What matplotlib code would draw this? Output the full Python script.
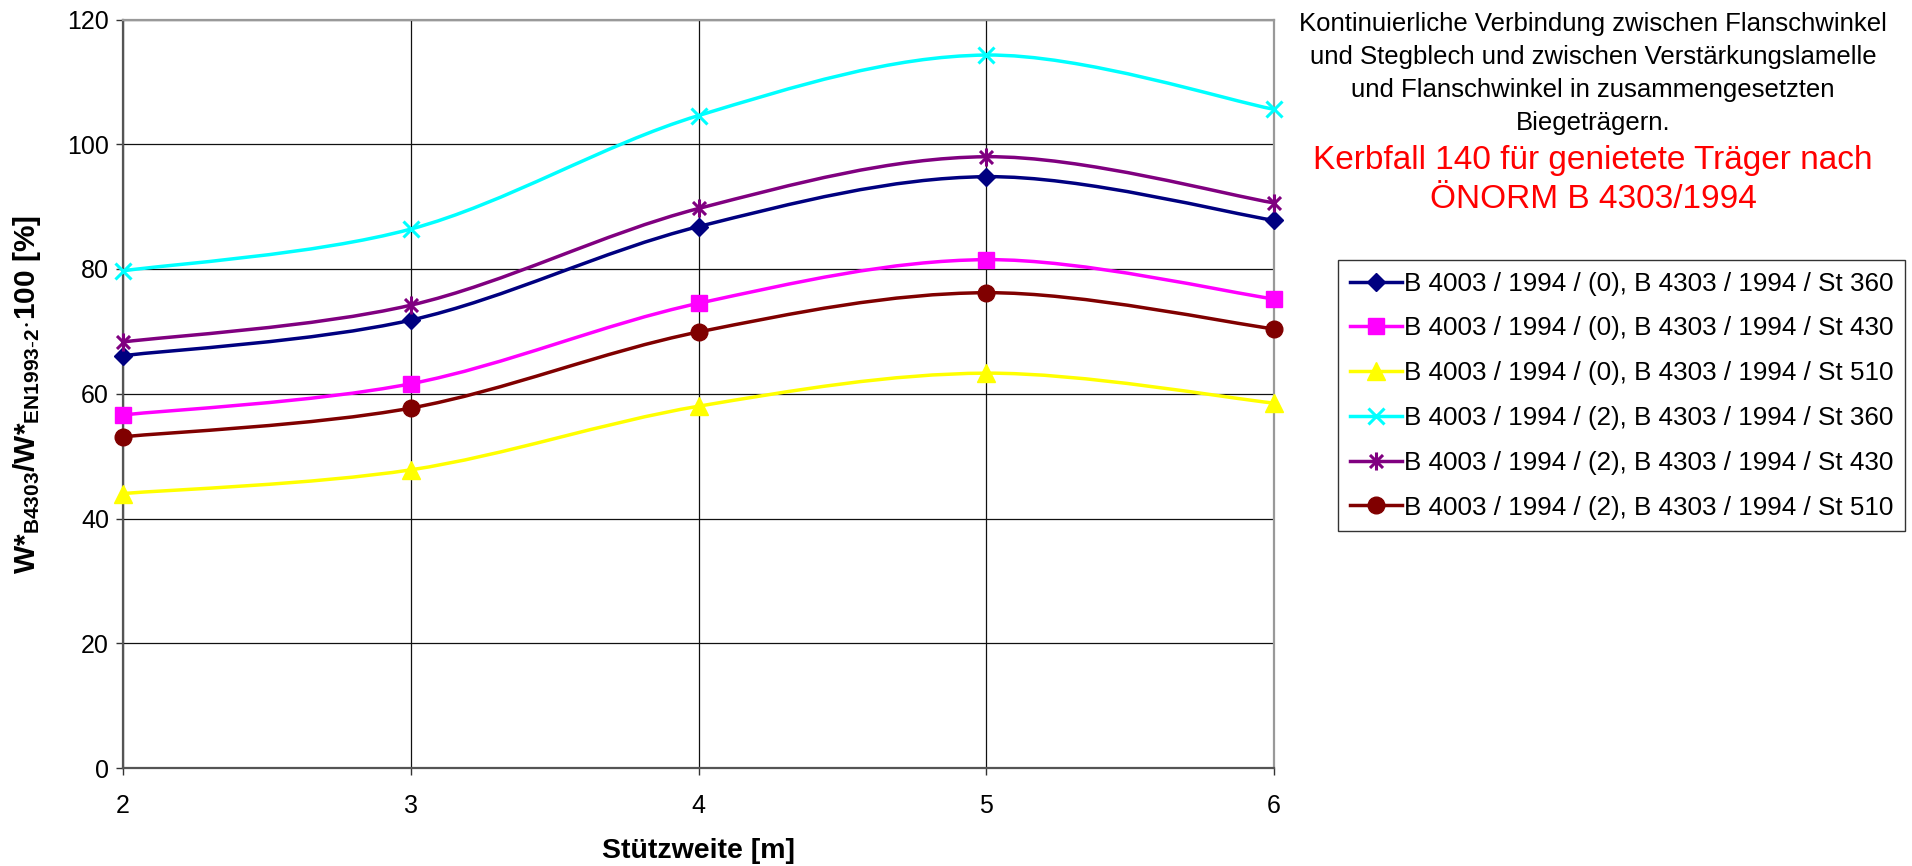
import numpy as np
import matplotlib
matplotlib.use("Agg")
import matplotlib.pyplot as plt
from matplotlib.path import Path
from matplotlib.patches import PathPatch
from matplotlib.lines import Line2D

plt.rcParams['font.family'] = ['Liberation Sans', 'DejaVu Sans']
plt.rcParams['mathtext.fontset'] = 'custom'
plt.rcParams['mathtext.rm'] = 'Liberation Sans'
plt.rcParams['mathtext.bf'] = 'Liberation Sans:bold'
plt.rcParams['mathtext.it'] = 'Liberation Sans:italic'

# ---- data ----
spans = [2, 3, 4, 5, 6]
s0_st360 = [66.1, 71.8, 86.8, 94.8, 87.8]
s0_st430 = [56.6, 61.6, 74.5, 81.5, 75.2]
s0_st510 = [44.0, 47.8, 58.0, 63.3, 58.5]
s2_st360 = [79.7, 86.4, 104.6, 114.3, 105.6]
s2_st430 = [68.3, 74.2, 89.7, 98.0, 90.6]
s2_st510 = [53.1, 57.7, 69.9, 76.2, 70.4]

labels = [
    "B 4003 / 1994 / (0), B 4303 / 1994 / St 360",
    "B 4003 / 1994 / (0), B 4303 / 1994 / St 430",
    "B 4003 / 1994 / (0), B 4303 / 1994 / St 510",
    "B 4003 / 1994 / (2), B 4303 / 1994 / St 360",
    "B 4003 / 1994 / (2), B 4303 / 1994 / St 430",
    "B 4003 / 1994 / (2), B 4303 / 1994 / St 510",
]
series = [s0_st360, s0_st430, s0_st510, s2_st360, s2_st430, s2_st510]
colors = ['#000080', '#FF00FF', '#FFFF00', '#00FFFF', '#800080', '#800000']

star = Path([(0, -1), (0, 1), (-0.72, -0.72), (0.72, 0.72), (-0.72, 0.72), (0.72, -0.72)],
            [Path.MOVETO, Path.LINETO, Path.MOVETO, Path.LINETO, Path.MOVETO, Path.LINETO])
markers = ['D', 's', '^', 'x', star, 'o']
msizes = [9.5, 12, 12.5, 12, 13, 12]


def smooth_path(x, y):
    pts = np.column_stack([x, y]).astype(float)
    n = len(pts)
    verts = [pts[0]]
    codes = [Path.MOVETO]
    for i in range(n - 1):
        p0 = pts[max(i - 1, 0)]
        p1 = pts[i]
        p2 = pts[i + 1]
        p3 = pts[min(i + 2, n - 1)]
        c1 = p1 + (p2 - p0) / 6.0
        c2 = p2 - (p3 - p1) / 6.0
        verts += [c1, c2, p2]
        codes += [Path.CURVE4] * 3
    return Path(verts, codes)


fig = plt.figure(figsize=(19.12, 8.66), dpi=100)
ax = fig.add_axes([123 / 1912, 1 - 768 / 866, (1274 - 123) / 1912, (768 - 19.5) / 866])

ax.set_xlim(2, 6)
ax.set_ylim(0, 120)
ax.set_xticks(spans)
ax.set_yticks(np.arange(0, 121, 20))
ax.grid(True, color='#111111', lw=0.9)
ax.set_axisbelow(True)

handles = []
for ys, c, m, ms, lab in zip(series, colors, markers, msizes, labels):
    ax.add_patch(PathPatch(smooth_path(spans, ys), fill=False, ec=c, lw=2.5, zorder=3))
    mew = 2.2 if m in ('x',) or isinstance(m, Path) else 1.0
    ax.plot(spans, ys, ls='none', marker=m, ms=ms, color=c, mec=c, mfc=c,
            mew=mew, clip_on=False, zorder=4)
    handles.append(Line2D([0], [0], color=c, lw=2.5, marker=m, ms=ms, mec=c, mfc=c, mew=mew))

for side in ('left', 'bottom'):
    ax.spines[side].set_color('#555555')
    ax.spines[side].set_linewidth(1.6)
for side in ('top', 'right'):
    ax.spines[side].set_color('#999999')
    ax.spines[side].set_linewidth(1.6)

ax.tick_params(axis='both', direction='out', length=5, width=1, color='#333333')
ax.tick_params(axis='y', labelsize=18, pad=5)
ax.tick_params(axis='x', labelsize=18, pad=14)

ax.set_xlabel("Stützweite [m]", fontsize=20.5, fontweight='bold', labelpad=14)
fig.text(27 / 1912, 1 - 394 / 866,
         r'$\mathbf{W{*}_{B4303}/W{*}_{EN1993\text{-}2}{\cdot}100\ [\%]}$',
         rotation=90, ha='center', va='center', fontsize=21.5)

leg = fig.legend(handles, labels, loc='upper left',
                 bbox_to_anchor=(1338 / 1912, 1 - 260 / 866),
                 fontsize=18.7, frameon=True, fancybox=False, edgecolor='black',
                 borderpad=0.45, labelspacing=0.8, handlelength=2.0,
                 handletextpad=0.1, borderaxespad=0)
leg.get_frame().set_linewidth(1.0)

cx = 1593 / 1912
black_lines = ["Kontinuierliche Verbindung zwischen Flanschwinkel",
               "und Stegblech und zwischen Verstärkungslamelle",
               "und Flanschwinkel in zusammengesetzten",
               "Biegeträgern."]
black_y = [24, 57, 90, 123]
for t, yy in zip(black_lines, black_y):
    fig.text(cx, 1 - yy / 866, t, ha='center', va='center', fontsize=18.5, color='black')

red_lines = ["Kerbfall 140 für genietete Träger nach", "ÖNORM B 4303/1994"]
red_y = [161, 199]
for t, yy in zip(red_lines, red_y):
    fig.text(cx, 1 - yy / 866, t, ha='center', va='center', fontsize=24, color='#FF0000')

fig.savefig("out.png", dpi=100)
